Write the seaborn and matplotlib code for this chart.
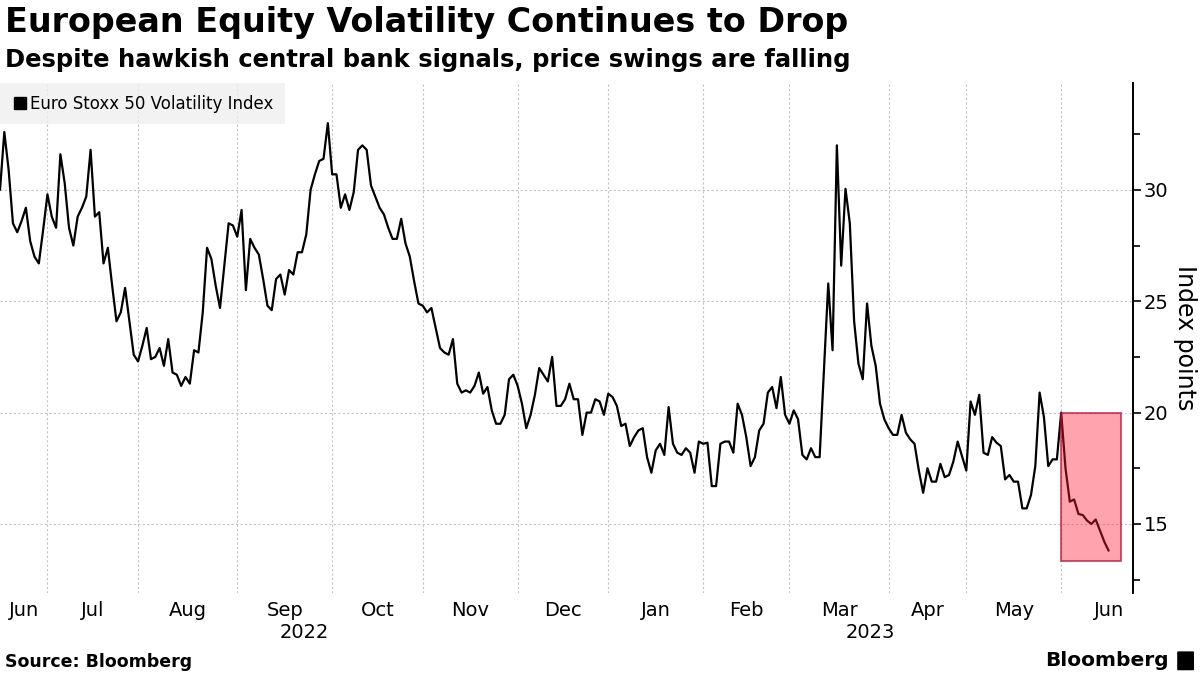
import matplotlib
matplotlib.use("Agg")
import matplotlib.pyplot as plt
from matplotlib.lines import Line2D
from matplotlib.patches import Rectangle, FancyBboxPatch
from matplotlib.ticker import FixedLocator, NullFormatter, FixedFormatter
import numpy as np
import pandas as pd
import seaborn as sns

# trading calendar (Eurex holidays inside the window)
holidays = ["2022-12-26", "2023-04-07", "2023-04-10", "2023-05-01"]
start_date = "2022-06-16"
end_date = "2023-06-16"
highlight_from = "2023-06-01"

# Euro Stoxx 50 Volatility Index, daily closes, month by month
vol_jun22 = [30.0, 32.6, 30.9, 28.5, 28.1, 28.6, 29.2, 27.7, 27.0, 26.7, 28.2]
vol_jul22 = [29.8, 28.8, 28.3, 31.6, 30.3, 28.3, 27.5, 28.8, 29.2, 29.7, 31.8,
             28.8, 29.0, 26.7, 27.4, 25.7, 24.1, 24.5, 25.6, 24.1, 22.6]
vol_aug22 = [22.3, 23.0, 23.8, 22.4, 22.5, 22.9, 22.1, 23.3, 21.8, 21.7, 21.2,
             21.6, 21.3, 22.8, 22.7, 24.5, 27.4, 26.9, 25.7, 24.7, 26.6, 28.5, 28.4]
vol_sep22 = [27.9, 29.1, 25.5, 27.8, 27.4, 27.1, 26.0, 24.8, 24.6, 26.0, 26.2,
             25.3, 26.4, 26.2, 27.2, 27.2, 28.0, 30.0, 30.7, 31.3, 31.4, 33.0]
vol_oct22 = [30.7, 30.7, 29.2, 29.8, 29.1, 29.9, 31.8, 32.0, 31.8, 30.2, 29.7,
             29.2, 28.9, 28.3, 27.8, 27.8, 28.7, 27.6, 27.0, 25.9, 24.9]
vol_nov22 = [24.8, 24.5, 24.7, 23.8, 22.9, 22.7, 22.6, 23.3, 21.3, 20.9, 21.0,
             20.9, 21.2, 21.8, 20.85, 21.15, 20.1, 19.5, 19.5, 19.9, 21.5, 21.7]
vol_dec22 = [21.2, 20.4, 19.3, 19.9, 20.8, 22.0, 21.7, 21.4, 22.5, 20.3, 20.3,
             20.6, 21.3, 20.6, 20.6, 19.0, 20.0, 20.0, 20.6, 20.5, 19.9]
vol_jan23 = [20.85, 20.7, 20.3, 19.4, 19.5, 18.5, 18.9, 19.2, 19.3, 18.0, 17.3,
             18.3, 18.6, 18.1, 20.25, 18.6, 18.2, 18.1, 18.4, 18.2, 17.3, 18.7]
vol_feb23 = [18.6, 18.65, 16.7, 16.7, 18.6, 18.7, 18.7, 18.2, 20.4, 19.9,
             18.9, 17.6, 18.0, 19.2, 19.5, 20.9, 21.15, 20.2, 21.6, 19.9]
vol_mar23 = [19.5, 20.1, 19.7, 18.1, 17.9, 18.4, 18.0, 18.0, 21.9, 25.8, 22.8,
             32.0, 26.6, 30.05, 28.5, 24.1, 22.2, 21.5, 24.9, 23.0, 22.1, 20.4, 19.7]
vol_apr23 = [19.3, 19.0, 19.0, 19.9, 19.1, 18.8, 18.6, 17.4, 16.4, 17.5, 16.9,
             16.9, 17.7, 17.1, 17.2, 17.8, 18.7, 18.05]
vol_may23 = [17.4, 20.5, 19.9, 20.8, 18.2, 18.1, 18.9, 18.65, 18.5, 17.0, 17.2,
             16.9, 16.9, 15.7, 15.7, 16.3, 17.6, 20.9, 19.8, 17.6, 17.9, 17.9]
vol_jun23 = [20.0, 17.5, 16.0, 16.1, 15.45, 15.4, 15.15, 15.0, 15.2, 14.7, 14.2, 13.8]

y_major = [15, 20, 25, 30]
y_minor = [12.5, 17.5, 22.5, 27.5, 32.5]

values = (vol_jun22 + vol_jul22 + vol_aug22 + vol_sep22 + vol_oct22 + vol_nov22 +
          vol_dec22 + vol_jan23 + vol_feb23 + vol_mar23 + vol_apr23 + vol_may23 + vol_jun23)
dates = pd.bdate_range(start_date, end_date, freq="C", holidays=holidays)
df = pd.DataFrame({"date": dates, "vstoxx": values})
df["pos"] = np.arange(len(df))

# full-month calendar so month labels sit in the middle of each month
full = pd.bdate_range("2022-06-01", "2023-06-30", freq="C", holidays=holidays)
offset = list(full).index(pd.Timestamp(start_date))
full_pos = pd.Series(np.arange(len(full)) - offset, index=full)
month_start = full_pos.groupby(full_pos.index.to_period("M")).min()
month_next = month_start.shift(-1).fillna(full_pos.iloc[-1] + 1)

x_right = len(df) - 1 + 5.6
grid_pos = [p for p in month_start.values if p > 0]
label_pos = [(max(s, 0) + n) / 2 for s, n in zip(month_start.values, month_next.values)]
label_txt = [p.strftime("%b") for p in month_start.index]

sns.set_style("white")
plt.rcParams["font.family"] = ["DejaVu Sans"]
plt.rcParams["text.color"] = "black"
plt.rcParams["axes.labelcolor"] = "black"
plt.rcParams["xtick.color"] = "black"
plt.rcParams["ytick.color"] = "black"

fig = plt.figure(figsize=(12, 6.75), dpi=100)
ax = fig.add_axes([0.0, 0.1215, 0.944, 0.7555])

sns.lineplot(data=df, x="pos", y="vstoxx", color="black", linewidth=1.6, ax=ax)

# pink highlight over the latest drop
hl = df[df["date"] >= highlight_from]
ax.add_patch(Rectangle((hl["pos"].iloc[0], hl["vstoxx"].min() - 0.45),
                       hl["pos"].iloc[-1] + 2.8 - hl["pos"].iloc[0],
                       hl["vstoxx"].iloc[0] - hl["vstoxx"].min() + 0.45,
                       facecolor=(1.0, 0.1, 0.22, 0.4), edgecolor=(0.75, 0.05, 0.2, 0.8),
                       linewidth=1.2, zorder=5))

ax.set_xlim(0, x_right)
ax.set_ylim(11.9, 34.8)

ax.xaxis.set_major_locator(FixedLocator(grid_pos))
ax.xaxis.set_major_formatter(NullFormatter())
ax.xaxis.set_minor_locator(FixedLocator(label_pos))
ax.xaxis.set_minor_formatter(FixedFormatter(label_txt))
ax.tick_params(axis="x", which="both", length=0, labelsize=14, pad=6)

ax.yaxis.tick_right()
ax.yaxis.set_label_position("right")
ax.yaxis.set_major_locator(FixedLocator(y_major))
ax.yaxis.set_minor_locator(FixedLocator(y_minor))
ax.tick_params(axis="y", which="major", length=6, width=1.2, direction="out",
               labelsize=14, pad=2, color="black")
ax.tick_params(axis="y", which="minor", length=5, width=1.2, direction="out", color="black")
ax.set_ylabel("Index points", fontsize=17, rotation=270, labelpad=20)
ax.set_xlabel("")

ax.grid(True, which="major", axis="both", color="#c4c4c4", linestyle=(0, (2, 2)), linewidth=0.8)
for side in ["left", "top", "bottom"]:
    ax.spines[side].set_visible(False)
ax.spines["right"].set_color("black")
ax.spines["right"].set_linewidth(1.4)

# year labels under the months
year_split = month_start[month_start.index.year == 2023].iloc[0]
for txt, xpos in [("2022", year_split / 2), ("2023", (year_split + x_right) / 2)]:
    ax.text(xpos, -0.077, txt, transform=ax.get_xaxis_transform(), ha="center", va="center",
            fontsize=14)

handle = Line2D([], [], marker="s", color="black", linestyle="none", markersize=8)
leg = ax.legend([handle], ["Euro Stoxx 50 Volatility Index"], loc="upper left",
                bbox_to_anchor=(0, 1), borderaxespad=0, frameon=True, fontsize=12,
                handletextpad=0.1, handlelength=1.0, borderpad=0.7, fancybox=False)
leg.get_frame().set_facecolor("#efefef")
leg.get_frame().set_edgecolor("none")

fig.text(0.004, 0.966, "European Equity Volatility Continues to Drop", fontsize=24,
         fontweight="bold", va="center", ha="left")
fig.text(0.004, 0.911, "Despite hawkish central bank signals, price swings are falling",
         fontsize=17.5, fontweight="bold", va="center", ha="left")
fig.text(0.004, 0.019, "Source: Bloomberg", fontsize=12.5, fontweight="bold", va="center", ha="left")
fig.text(0.974, 0.022, "Bloomberg", fontsize=14.5, fontweight="bold", va="center", ha="right")
fig.patches.append(FancyBboxPatch((0.982, 0.008), 0.012, 0.026, boxstyle="round,pad=0.001",
                                  transform=fig.transFigure, facecolor="black", edgecolor="none"))

fig.savefig("out.png", dpi=100)
